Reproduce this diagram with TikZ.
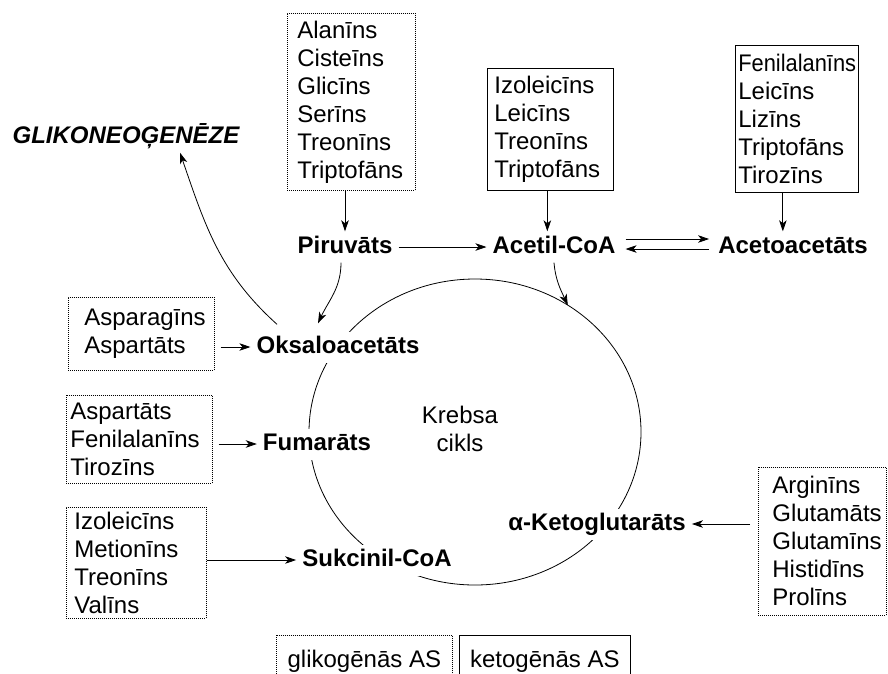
\documentclass[tikz,border=0pt]{standalone}
\usepackage{fontspec}
\setmainfont{Liberation Sans}
\usetikzlibrary{arrows.meta,calc}

\begin{document}
\begin{tikzpicture}[x=1pt,y=1pt,
  txt/.style={font=\fontsize{24}{28}\selectfont},
  lab/.style={font=\fontsize{24}{28}\selectfont\bfseries, text height=18pt, text depth=5pt, inner xsep=6pt, inner ysep=4pt},
  onring/.style={lab, fill=white},
  listbox/.style={txt, draw, line width=0.7pt, align=left, inner ysep=0pt, anchor=north west},
  glybox/.style={listbox, dash pattern=on 1pt off 1pt},
  ketbox/.style={listbox},
  legbox/.style={txt, draw, line width=0.7pt, align=center, anchor=north west, minimum height=52pt},
  arr/.style={line width=0.8pt, -{Stealth[length=11pt,width=7.5pt,inset=3pt]}},
  ring/.style={line width=0.8pt}
]
\useasboundingbox (0,0) rectangle (888,-673);
\clip (0,0) rectangle (888,-673);

% citric acid cycle ring
\draw[ring] (475,-432) ellipse [x radius=166, y radius=153];
\coordinate (cacc) at ($(475,-432)+(56:166 and 153)$);

% amino acid groups
\node[glybox, inner xsep=10pt, text width=108pt, minimum height=177pt] (topbox) at (287,-13)
  {Alanīns\\Cisteīns\\Glicīns\\Serīns\\Treonīns\\Triptofāns};
\node[ketbox, inner xsep=7pt, text width=112pt, minimum height=122pt] (acetilbox) at (487,-68)
  {Izoleicīns\\Leicīns\\Treonīns\\Triptofāns};
\node[ketbox, inner xsep=3pt, text width=117pt, minimum height=147pt] (acetobox) at (735,-45)
  {\scalebox{0.91}[1]{Fenilalanīns}\\Leicīns\\Lizīns\\Triptofāns\\Tirozīns};
\node[glybox, inner xsep=16pt, text width=114pt, minimum height=73pt] (asparbox) at (68,-297)
  {Asparagīns\\Aspartāts};
\node[glybox, inner xsep=4pt, text width=138pt, minimum height=88pt] (aspartbox) at (66,-395)
  {Aspartāts\\Fenilalanīns\\Tirozīns};
\node[glybox, inner xsep=8pt, text width=124pt, minimum height=111pt] (izolbox) at (66,-507)
  {Izoleicīns\\Metionīns\\Treonīns\\Valīns};
\node[glybox, inner xsep=14pt, text width=100pt, minimum height=148pt] (arginbox) at (758,-467)
  {Arginīns\\Glutamāts\\Glutamīns\\Histidīns\\Prolīns};

% metabolites
\node[lab] (piruv) at (345,-247) {Piruvāts};
\node[lab] (acetil) at (554,-247) {Acetil-CoA};
\node[lab] (aceto) at (793,-247) {Acetoacetāts};
\node[onring] (oksa) at (338,-347) {Oksaloacetāts};
\node[onring] (fuma) at (317,-444) {Fumarāts};
\node[onring] (sukc) at (377,-560) {Sukcinil-CoA};
\node[onring] (keto) at (597,-524) {α-Ketoglutarāts};
\node[lab, font=\fontsize{24}{28}\selectfont\bfseries\itshape] (gliko) at (126,-137) {GLIKONEOĢENĒZE};
\node[txt, align=center] (krebs) at (460,-429) {Krebsa\\cikls};

% legend
\node[legbox, dash pattern=on 1pt off 1pt, minimum width=176pt] (leggly) at (276,-635) {glikogēnās AS};
\node[legbox, minimum width=171pt] (legket) at (459,-635) {ketogēnās AS};

% connectors
\draw[arr] (piruv.north |- topbox.south) -- (piruv.north);
\draw[arr] ([xshift=-3pt]acetilbox.south) -- ([xshift=-3pt]acetilbox.south |- acetil.north);
\draw[arr] ([xshift=-14pt]acetobox.south) -- ([xshift=-14pt]acetobox.south |- aceto.north);
\draw[arr] (piruv.east) -- (acetil.west);
\draw[arr, shorten <=4pt, shorten >=3pt] ([yshift=8pt]acetil.east) -- ([yshift=8pt]aceto.west);
\draw[arr, shorten <=3pt, shorten >=4pt] ([yshift=-2pt]aceto.west) -- ([yshift=-2pt]acetil.east);
\draw[arr] (acetil.south) to[out=-85,in=115] (cacc);
\draw[arr] ([xshift=-4pt]piruv.south) to[out=-90,in=65] ([xshift=-20pt,yshift=8pt]oksa.north);
\draw[arr] ([xshift=-61pt,yshift=7pt]oksa.north) to[out=138,in=-71] ([xshift=54pt]gliko.south);
\draw[arr] ([xshift=6pt]asparbox.east |- oksa.west) -- (oksa.west);
\draw[arr] ([xshift=6pt]aspartbox.east |- fuma.west) -- (fuma.west);
\draw[arr] (izolbox.east |- sukc.west) -- (sukc.west);
\draw[arr] ([xshift=-8pt]arginbox.west |- keto.east) -- (keto.east);
\end{tikzpicture}
\end{document}
